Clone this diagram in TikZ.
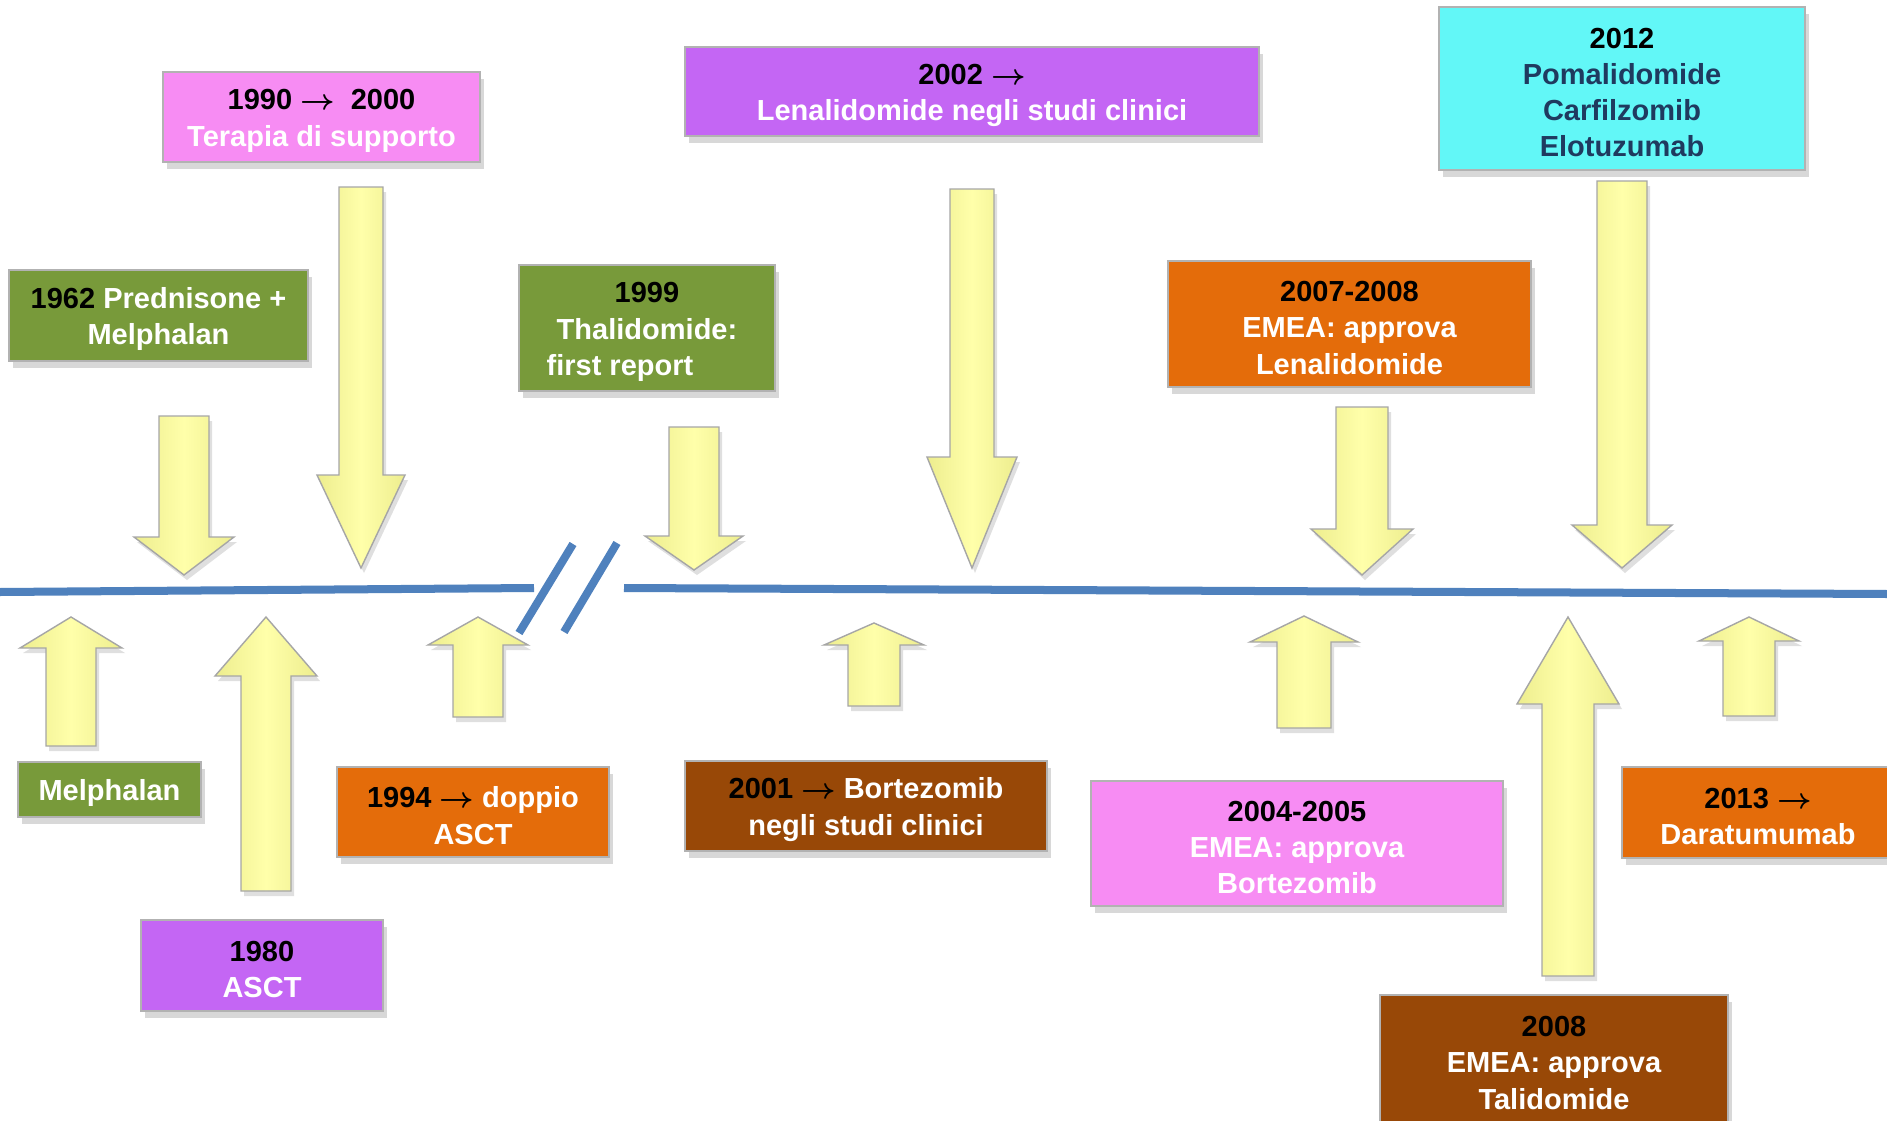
\documentclass[tikz,border=0pt]{standalone}
\usepackage{amsmath}
\usepackage{fontspec}
\setmainfont{Liberation Sans}
\usetikzlibrary{shadows}

\definecolor{tlblue}{HTML}{4F81BD}
\definecolor{boxpink}{HTML}{F78CF3}
\definecolor{boxpurple}{HTML}{C466F4}
\definecolor{boxgreen}{HTML}{789A3A}
\definecolor{boxorange}{HTML}{E46C0A}
\definecolor{boxbrown}{HTML}{984807}
\definecolor{boxcyan}{HTML}{62F7F7}
\definecolor{navytext}{HTML}{1F3A5F}
\definecolor{yellowedge}{HTML}{EDED8E}
\definecolor{yellowmid}{HTML}{FFFFAA}

\newcommand{\yrto}{$\boldsymbol{\rightarrow}$}
\newcommand{\tp}{\rule{0pt}{8pt}}

\tikzset{
  evbox/.style={draw=black!30,line width=0.4pt,inner sep=0pt,align=center,text=white,
    drop shadow={shadow xshift=0.04cm,shadow yshift=-0.07cm,opacity=0.3}},
  blockarrow/.style={draw=black!35,line width=0.4pt,left color=yellowedge,right color=yellowedge,middle color=yellowmid,
    drop shadow={shadow xshift=0.03cm,shadow yshift=-0.05cm,opacity=0.25}},
  timeline/.style={draw=tlblue,line width=0.08cm}
}

\begin{document}
\begin{tikzpicture}[x=0.01cm,y=-0.01cm,font=\fontsize{8.25}{10.3}\selectfont\bfseries]
  \path[use as bounding box,fill=white] (0,0) rectangle (1887,1121);

  % timeline with break
  \coordinate (lineW) at (0,592);
  \coordinate (breakL) at (534,588);
  \coordinate (breakR) at (624,588);
  \coordinate (lineE) at (1887,594);
  \coordinate (slashAa) at (519,633);
  \coordinate (slashAb) at (573,544);
  \coordinate (slashBa) at (564,632);
  \coordinate (slashBb) at (617,543);
  \draw[timeline] (lineW) -- (breakL);
  \draw[timeline] (breakR) -- (lineE);
  \draw[timeline] (slashAa) -- (slashAb);
  \draw[timeline] (slashBa) -- (slashBb);

  % block arrows: centre/shaft half width/shaft end/head base/head half width/tip
  \foreach \cx/\sw/\ys/\yh/\hw/\yt in {184/25/416/537/50/575, 361/22/187/475/44/568,
      694/25/427/536/49/570, 972/22/189/457/45/568, 1362/26/407/529/51/575, 1622/25/181/525/50/568,
      71/25/746/648/51/617, 266/25/891/676/51/617, 478/25/717/645/50/617, 874/26/706/645/50/623,
      1304/27/728/642/54/616, 1568/26/976/704/51/617, 1749/26/716/641/50/617} {
    \draw[blockarrow] (\cx-\sw,\ys) -- (\cx+\sw,\ys) -- (\cx+\sw,\yh) -- (\cx+\hw,\yh)
      -- (\cx,\yt) -- (\cx-\hw,\yh) -- (\cx-\sw,\yh) -- cycle;
  }

  % events above the line
  \node[evbox,fill=boxpink,minimum width=3.17cm,minimum height=0.90cm] (supp) at (321.5,117)
    {\tp\textcolor{black}{1990 \yrto\ \ 2000}\\Terapia di supporto};
  \node[evbox,fill=boxgreen,minimum width=2.99cm,minimum height=0.91cm] (predmel) at (158.5,315.5)
    {\tp\textcolor{black}{1962} Prednisone +\\Melphalan};
  \node[evbox,fill=boxgreen,minimum width=2.56cm,minimum height=1.26cm] (thal) at (647,328)
    {\tp\textcolor{black}{1999}\\ Thalidomide:\\first report\hspace*{0.54cm}};
  \node[evbox,fill=boxpurple,minimum width=5.74cm,minimum height=0.89cm] (lenstudi) at (972,91.5)
    {\tp\textcolor{black}{2002 \yrto}\\Lenalidomide negli studi clinici};
  \node[evbox,fill=boxorange,minimum width=3.63cm,minimum height=1.26cm] (emealen) at (1349.5,324)
    {\tp\textcolor{black}{2007-2008}\\EMEA: approva\\Lenalidomide};
  \node[evbox,fill=boxcyan,text=navytext,minimum width=3.66cm,minimum height=1.63cm] (pom) at (1622,88.5)
    {\tp\textcolor{black}{2012}\\Pomalidomide\\Carfilzomib\\Elotuzumab};

  % events below the line
  \node[evbox,fill=boxgreen,minimum width=1.83cm,minimum height=0.55cm] (mel) at (109.5,789.5)
    {\tp Melphalan};
  \node[evbox,fill=boxpurple,minimum width=2.42cm,minimum height=0.91cm] (asct) at (262,965.5)
    {\tp\textcolor{black}{1980}\\ASCT};
  \node[evbox,fill=boxorange,minimum width=2.72cm,minimum height=0.90cm] (doppio) at (473,812)
    {\tp\textcolor{black}{1994 \yrto} doppio\\ASCT};
  \node[evbox,fill=boxbrown,minimum width=3.62cm,minimum height=0.90cm] (bortstudi) at (866,806)
    {\tp\textcolor{black}{2001 \yrto} Bortezomib\\negli studi clinici};
  \node[evbox,fill=boxpink,minimum width=4.12cm,minimum height=1.25cm] (emeabort) at (1297,843.5)
    {\tp\textcolor{black}{2004-2005}\\EMEA: approva\\Bortezomib};
  \node[evbox,fill=boxorange,minimum width=2.72cm,minimum height=0.91cm] (dara) at (1758,812.5)
    {\tp\textcolor{black}{2013 \yrto}\\Daratumumab};
  \node[evbox,fill=boxbrown,minimum width=3.48cm,minimum height=1.28cm] (emeatal) at (1554,1059)
    {\tp\textcolor{black}{2008}\\EMEA: approva\\Talidomide};
\end{tikzpicture}
\end{document}
